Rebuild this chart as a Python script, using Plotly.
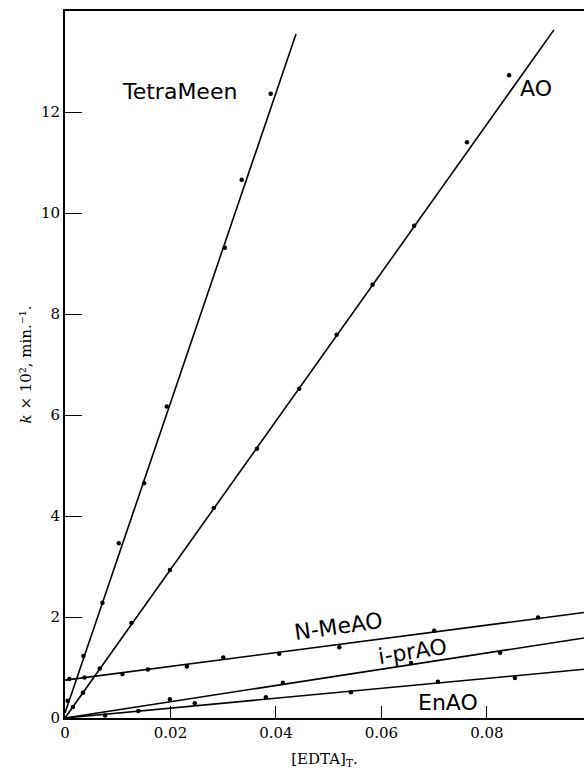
import plotly.graph_objects as go

# Measured rate constants, k x 10^2 (min^-1), versus total EDTA concentration
tetra_x = [0.0005, 0.0035, 0.0071, 0.0102, 0.0150, 0.0193, 0.0303, 0.0335, 0.0390]
tetra_y = [0.34, 1.23, 2.28, 3.46, 4.65, 6.17, 9.31, 10.66, 12.36]

ao_x = [0.0015, 0.0034, 0.0066, 0.0126, 0.0199, 0.0282, 0.0364, 0.0444, 0.0515,
        0.0583, 0.0662, 0.0762, 0.0842]
ao_y = [0.22, 0.50, 0.98, 1.88, 2.93, 4.16, 5.33, 6.52, 7.59, 8.58, 9.75, 11.40, 12.73]

nme_x = [0.0008, 0.0037, 0.0109, 0.0157, 0.0231, 0.0300, 0.0406, 0.0520, 0.0700, 0.0897]
nme_y = [0.77, 0.80, 0.87, 0.96, 1.02, 1.20, 1.27, 1.40, 1.73, 1.99]

ipr_x = [0.0199, 0.0413, 0.0656, 0.0825]
ipr_y = [0.37, 0.70, 1.09, 1.29]

en_x = [0.0076, 0.0139, 0.0246, 0.0381, 0.0542, 0.0707, 0.0853]
en_y = [0.05, 0.14, 0.29, 0.41, 0.51, 0.72, 0.79]

# Straight-line fits: (intercept, slope, last x of the drawn line)
fit_names = ["TetraMeen", "AO", "N-MeAO", "i-prAO", "EnAO"]
fit_intercepts = [0.10, 0.0, 0.75, 0.0, 0.0]
fit_slopes = [307.0, 147.0, 13.6, 16.1, 9.8]
fit_x_end = [0.0438, 0.0927, 0.0984, 0.0984, 0.0984]

x_ticks = [0, 0.02, 0.04, 0.06, 0.08]
x_tick_text = ["0", "0.02", "0.04", "0.06", "0.08"]
y_ticks = [0, 2, 4, 6, 8, 10, 12]

fig = go.Figure()

for name, b, m, xe in zip(fit_names, fit_intercepts, fit_slopes, fit_x_end):
    fig.add_trace(go.Scatter(
        x=[0, xe], y=[b, b + m * xe], mode="lines",
        line=dict(color="black", width=1.6), showlegend=False, hoverinfo="skip",
    ))

for xs, ys in [(tetra_x, tetra_y), (ao_x, ao_y), (nme_x, nme_y), (ipr_x, ipr_y), (en_x, en_y)]:
    fig.add_trace(go.Scatter(
        x=xs, y=ys, mode="markers",
        marker=dict(color="black", size=4.5), showlegend=False,
    ))

label_font = dict(family="DejaVu Sans", size=22, color="black")
labels = [
    ("TetraMeen", 0.0218, 12.40, 0),
    ("AO", 0.0893, 12.47, 0),
    ("N-MeAO", 0.0518, 1.81, -8),
    ("i-prAO", 0.0658, 1.32, -9),
    ("EnAO", 0.0726, 0.31, 0),
]
for text, x, y, ang in labels:
    fig.add_annotation(x=x, y=y, text=text, showarrow=False, textangle=ang,
                       font=label_font, xanchor="center", yanchor="middle")

serif = "DejaVu Serif"
fig.update_layout(
    width=584, height=776,
    margin=dict(l=65, r=0, t=11, b=58),
    paper_bgcolor="white", plot_bgcolor="white",
    font=dict(family=serif, size=14, color="black"),
    xaxis=dict(
        range=[0, 0.0984], tickvals=x_ticks, ticktext=x_tick_text,
        ticks="inside", ticklen=12, tickwidth=1.2, tickcolor="black",
        showline=True, linecolor="black", linewidth=2, mirror=True,
        showgrid=False, zeroline=False,
        tickfont=dict(family=serif, size=15),
        title=dict(text="[EDTA]<sub>T</sub>.", font=dict(family=serif, size=15), standoff=12),
    ),
    yaxis=dict(
        range=[0, 14.0], tickvals=y_ticks,
        ticks="inside", ticklen=17, tickwidth=1.2, tickcolor="black",
        showline=True, linecolor="black", linewidth=2, mirror=False,
        showgrid=False, zeroline=False,
        tickfont=dict(family=serif, size=15),
        title=dict(text="<i>k</i> × 10², min.⁻¹.", font=dict(family=serif, size=15), standoff=6),
    ),
)

fig.write_html("out.html")
